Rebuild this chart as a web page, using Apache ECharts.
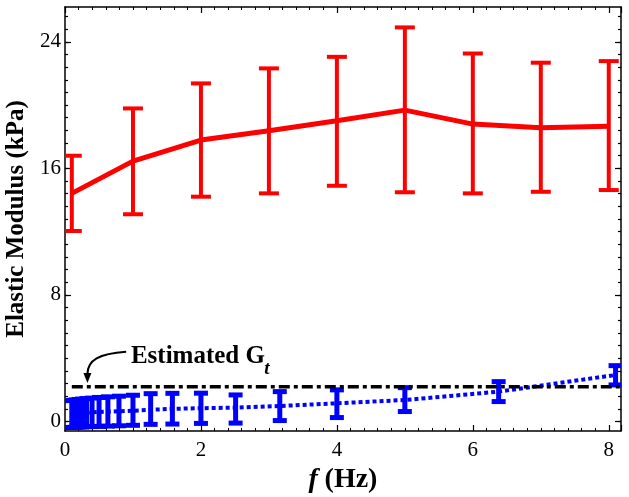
<!DOCTYPE html>
<html><head><meta charset="utf-8">
<script src="https://cdn.jsdelivr.net/npm/echarts@6/dist/echarts.min.js"></script>
<style>html,body{margin:0;padding:0;background:#fff}#c{width:629px;height:497px}</style>
</head><body><div id="c"></div>
<script>
// ---- data ----
const redFreq = [0.1, 1, 2, 3, 4, 5, 6, 7, 8];
const redMean = [14.42, 16.46, 17.79, 18.38, 19.01, 19.68, 18.80, 18.57, 18.67];
const redLow  = [12.04, 13.10, 14.21, 14.42, 14.90, 14.49, 14.42, 14.52, 14.63];
const redHigh = [16.80, 19.79, 21.37, 22.32, 23.05, 24.91, 23.26, 22.68, 22.78];

const blueFreq = [0.1, 0.126, 0.158, 0.2, 0.251, 0.316, 0.398, 0.501, 0.631, 0.794, 1.0, 1.26, 1.58, 2.0, 2.51, 3.16, 4.0, 5.0, 6.38, 8.1];
const blueMean = [0.50, 0.51, 0.52, 0.53, 0.55, 0.56, 0.58, 0.60, 0.62, 0.65, 0.68, 0.74, 0.80, 0.84, 0.88, 0.98, 1.15, 1.36, 1.89, 2.94];
const blueLow  = [-0.38, -0.37, -0.36, -0.35, -0.34, -0.33, -0.32, -0.31, -0.29, -0.27, -0.24, -0.18, -0.16, -0.12, -0.10, 0.06, 0.25, 0.63, 1.26, 2.31];
const blueHigh = [1.32, 1.34, 1.36, 1.39, 1.42, 1.45, 1.48, 1.52, 1.56, 1.60, 1.66, 1.76, 1.78, 1.79, 1.68, 1.89, 2.00, 2.14, 2.52, 3.53];

const gtFreq  = [0.1, 8.18];
const gtValue = [2.2, 2.2];

const yMajorTicks = [0, 8, 16, 24];
const yMinorStep = 0.8;
const xTickInterval = 2;

const annotationText = 'Estimated G';
const annotationSub = 't';

// ---- chart ----
const FONT = '"Liberation Serif","Times New Roman",serif';
const X_MIN = 0, X_MAX = 8.18, Y_MIN = -0.6, Y_MAX = 26.2;
const yMinorTicks = [];
for (let k = 0; k * yMinorStep <= Y_MAX; k++) yMinorTicks.push(+(k * yMinorStep).toFixed(2));

function errRender(capHalf, lw, color) {
  return function (params, api) {
    const x = api.value(0), lo = api.value(1), hi = api.value(2);
    const a = api.coord([x, lo]), b = api.coord([x, hi]);
    const style = { stroke: color, lineWidth: lw, fill: null };
    return { type: 'group', children: [
      { type: 'line', shape: { x1: a[0], y1: a[1], x2: b[0], y2: b[1] }, style },
      { type: 'line', shape: { x1: a[0] - capHalf, y1: a[1], x2: a[0] + capHalf, y2: a[1] }, style },
      { type: 'line', shape: { x1: b[0] - capHalf, y1: b[1], x2: b[0] + capHalf, y2: b[1] }, style }
    ]};
  };
}

const axisLineStyle = { color: '#000', width: 1.5 };
function xAxisDef(pos, showLabel) {
  return {
    type: 'value', min: X_MIN, max: X_MAX, interval: xTickInterval, position: pos,
    axisLine: { show: true, onZero: false, lineStyle: axisLineStyle },
    axisTick: { show: true, inside: true, length: 6, lineStyle: { color: '#000', width: 1.2 } },
    minorTick: { show: true, splitNumber: 10, length: 3, lineStyle: { color: '#000', width: 1 } },
    axisLabel: { show: showLabel, fontFamily: FONT, fontSize: 21, color: '#000', margin: 9, showMaxLabel: false },
    splitLine: { show: false }, minorSplitLine: { show: false }
  };
}
function yAxisDef(pos, values, len, showLine, showLabel) {
  return {
    type: 'value', min: Y_MIN, max: Y_MAX, position: pos,
    axisLine: { show: showLine, onZero: false, lineStyle: axisLineStyle },
    axisTick: { show: true, inside: true, length: len, customValues: values, lineStyle: { color: '#000', width: 1.2 } },
    axisLabel: { show: showLabel, customValues: values, fontFamily: FONT, fontSize: 21, color: '#000', margin: 4 },
    splitLine: { show: false }
  };
}

const xBottom = xAxisDef('bottom', true);
xBottom.name = '{i|f}  {b|(Hz)}';
xBottom.nameLocation = 'middle';
xBottom.nameGap = 30;
xBottom.nameTextStyle = { rich: {
  i: { fontFamily: FONT, fontStyle: 'italic', fontWeight: 'bold', fontSize: 28, color: '#000' },
  b: { fontFamily: FONT, fontWeight: 'bold', fontSize: 28, color: '#000' }
}};

const yLeft = yAxisDef('left', yMajorTicks, 6, true, true);
yLeft.name = 'Elastic Modulus (kPa)';
yLeft.nameLocation = 'middle';
yLeft.nameGap = 35;
yLeft.nameTextStyle = { fontFamily: FONT, fontWeight: 'bold', fontSize: 25, color: '#000' };

const chart = echarts.init(document.getElementById('c'), null, { renderer: 'canvas' });
chart.setOption({
  animation: false,
  backgroundColor: '#fff',
  grid: { left: 65, right: 8, top: 7, bottom: 66, containLabel: false, outerBoundsMode: 'none' },
  xAxis: [xBottom, xAxisDef('top', false)],
  yAxis: [
    yLeft,
    yAxisDef('left', yMinorTicks, 3, false, false),
    yAxisDef('right', yMajorTicks, 6, true, false),
    yAxisDef('right', yMinorTicks, 3, false, false)
  ],
  series: [
    { name: 'Gt', type: 'line', xAxisIndex: 0, yAxisIndex: 0, symbol: 'none',
      data: gtFreq.map((f, i) => [f, gtValue[i]]),
      lineStyle: { color: '#000', width: 3.5, type: [11, 4, 4, 4] }, z: 3 },
    { name: 'blueErr', type: 'custom', xAxisIndex: 0, yAxisIndex: 0, clip: true,
      renderItem: errRender(7, 5, '#0000ff'), encode: { x: 0, y: [1, 2] },
      data: blueFreq.map((f, i) => [f, blueLow[i], blueHigh[i]]), z: 2 },
    { name: 'blue', type: 'line', xAxisIndex: 0, yAxisIndex: 0, symbol: 'none',
      data: blueFreq.map((f, i) => [f, blueMean[i]]),
      lineStyle: { color: '#0000ff', width: 4, type: [4, 3] }, z: 2 },
    { name: 'redErr', type: 'custom', xAxisIndex: 0, yAxisIndex: 0, clip: true,
      renderItem: errRender(10, 4, '#ff0000'), encode: { x: 0, y: [1, 2] },
      data: redFreq.map((f, i) => [f, redLow[i], redHigh[i]]), z: 4 },
    { name: 'red', type: 'line', xAxisIndex: 0, yAxisIndex: 0, symbol: 'none',
      data: redFreq.map((f, i) => [f, redMean[i]]),
      lineStyle: { color: '#ff0000', width: 5 }, z: 4 }
  ]
});

// annotation placed via data coordinates
const P = (x, y) => chart.convertToPixel({ xAxisIndex: 0, yAxisIndex: 0 }, [x, y]);
const tPos = P(0.97, 4.12), sPos = P(2.93, 3.3);
const a0 = P(0.9, 4.41), c1 = P(0.5, 4.29), c2 = P(0.33, 3.9), a1 = P(0.33, 3.0), tip = P(0.33, 2.44);
chart.setOption({
  graphic: [
    { type: 'text', x: tPos[0], y: tPos[1], style: { text: annotationText, font: 'bold 25px ' + FONT, fill: '#000', textAlign: 'left', textVerticalAlign: 'middle' } },
    { type: 'text', x: sPos[0], y: sPos[1], style: { text: annotationSub, font: 'italic bold 19px ' + FONT, fill: '#000', textAlign: 'left', textVerticalAlign: 'middle' } },
    { type: 'bezierCurve', shape: { x1: a0[0], y1: a0[1], cpx1: c1[0], cpy1: c1[1], cpx2: c2[0], cpy2: c2[1], x2: a1[0], y2: a1[1] }, style: { stroke: '#000', lineWidth: 2, fill: null } },
    { type: 'polygon', shape: { points: [[a1[0] - 4, a1[1] - 1], [a1[0] + 4, a1[1] - 1], [tip[0], tip[1]]] }, style: { fill: '#000' } }
  ]
});
</script>
</body></html>
